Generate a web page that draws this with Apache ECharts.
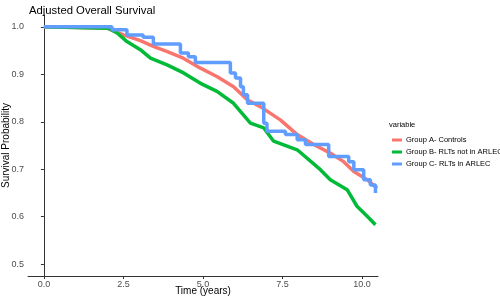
<!DOCTYPE html>
<html>
    <head>
        <meta charset="UTF-8">
        <title>Adjusted Overall Survival</title>
        <style type="text/css">
            body,html{ margin: 0; padding: 0; width: 500px; height: 300px; overflow: hidden; background: #fff;}
            .chart-box{ width: 500px; height: 300px;}
        </style>
    </head>
    <body>
        <div class="chart-box" id="chart"></div>

        <script src="https://cdn.jsdelivr.net/npm/echarts@6/dist/echarts.min.js"></script>
        <script type="text/javascript">
            // group names (legend order)
            var groupNames = ['Group A- Controls', 'Group B- RLTs not in ARLEC', 'Group C- RLTs in ARLEC'];

            // Group A - time (years) / survival
            var timeA = [0, 2.0, 2.5, 3.03, 3.44, 3.88, 4.38, 4.92, 5.45, 5.96, 6.40, 6.80, 7.43, 7.96, 8.48, 9.00, 9.42, 9.74, 10.16, 10.47];
            var survA = [1.0, 0.997, 0.983, 0.971, 0.959, 0.948, 0.934, 0.913, 0.895, 0.874, 0.846, 0.832, 0.804, 0.773, 0.752, 0.734, 0.716, 0.695, 0.678, 0.660];

            // Group B
            var timeB = [0, 2.03, 2.30, 2.61, 3.03, 3.35, 3.87, 4.39, 4.92, 5.44, 5.96, 6.49, 6.91, 7.22, 7.96, 8.69, 9.00, 9.53, 9.84, 10.16, 10.42];
            var survB = [1.0, 0.997, 0.987, 0.969, 0.952, 0.934, 0.920, 0.903, 0.881, 0.864, 0.839, 0.797, 0.787, 0.759, 0.741, 0.699, 0.678, 0.657, 0.622, 0.601, 0.583];

            // Group C (step curve)
            var timeC = [0, 2.14, 2.61, 3.12, 3.44, 4.29, 4.54, 4.76, 5.86, 6.02, 6.18, 6.27, 6.40, 6.91, 7.01, 7.59, 7.96, 8.22, 8.95, 9.58, 9.74, 10.05, 10.26, 10.42];
            var survC = [1.0, 0.994, 0.983, 0.978, 0.964, 0.945, 0.937, 0.925, 0.903, 0.892, 0.874, 0.857, 0.839, 0.797, 0.780, 0.773, 0.762, 0.752, 0.727, 0.716, 0.699, 0.678, 0.667, 0.650];

            var xTicks = [0, 2.5, 5, 7.5, 10];
            var yTicks = [0.5, 0.6, 0.7, 0.8, 0.9, 1.0];

            var colors = ['#F8766D', '#00BA38', '#619CFF'];

            function pairs(t, s) {
                return t.map(function (v, i) { return [v, s[i]]; });
            }

            var myChart = echarts.init(document.getElementById('chart'));

            var axisCommon = {
                axisLine: { show: true, lineStyle: { color: '#333', width: 1 } },
                splitLine: { show: false },
                nameMoveOverlap: false,
                axisLabel: { color: '#4D4D4D', fontSize: 9, fontFamily: 'Liberation Sans', margin: 4 },
                nameTextStyle: { color: '#000', fontSize: 10, fontFamily: 'Liberation Sans' }
            };

            var option = {
                animation: false,
                title: [{
                    text: 'Adjusted Overall Survival',
                    left: 24, top: 0,
                    textStyle: { fontSize: 11.3, fontWeight: 'normal', color: '#000', fontFamily: 'Liberation Sans' }
                }, {
                    text: 'variable',
                    left: 384, top: 116,
                    textStyle: { fontSize: 7.5, fontWeight: 'normal', color: '#000', fontFamily: 'Liberation Sans' }
                }],
                legend: {
                    orient: 'vertical',
                    left: 387, top: 130,
                    icon: 'rect',
                    itemWidth: 10, itemHeight: 3,
                    itemGap: 2,
                    textStyle: { fontSize: 7.5, color: '#000', fontFamily: 'Liberation Sans', lineHeight: 10, padding: [0, 0, 0, -1] },
                    data: groupNames
                },
                grid: { left: 28, right: 122, top: 15, bottom: 24, containLabel: false, outerBoundsMode: 'none' },
                xAxis: Object.assign({}, axisCommon, {
                    type: 'value',
                    min: -0.5, max: 10.5,
                    name: 'Time (years)',
                    nameLocation: 'middle',
                    nameGap: 10,
                    axisTick: { show: true, length: 3, lineStyle: { color: '#333' }, customValues: xTicks },
                    axisLabel: Object.assign({}, axisCommon.axisLabel, {
                        customValues: xTicks,
                        formatter: function (v) { return v.toFixed(1); }
                    })
                }),
                yAxis: Object.assign({}, axisCommon, {
                    type: 'value',
                    min: 0.475, max: 1.025,
                    name: 'Survival Probability',
                    nameLocation: 'middle',
                    nameGap: 17,
                    axisTick: { show: true, length: 3, lineStyle: { color: '#333' }, customValues: yTicks },
                    axisLabel: Object.assign({}, axisCommon.axisLabel, {
                        customValues: yTicks,
                        formatter: function (v) { return v.toFixed(1); }
                    })
                }),
                series: [{
                    name: groupNames[0],
                    type: 'line',
                    data: pairs(timeA, survA),
                    showSymbol: false,
                    lineStyle: { width: 3.5, color: colors[0] },
                    itemStyle: { color: colors[0] },
                    emphasis: { disabled: true }
                }, {
                    name: groupNames[1],
                    type: 'line',
                    data: pairs(timeB, survB),
                    showSymbol: false,
                    lineStyle: { width: 3.5, color: colors[1] },
                    itemStyle: { color: colors[1] },
                    emphasis: { disabled: true }
                }, {
                    name: groupNames[2],
                    type: 'line',
                    step: 'end',
                    data: pairs(timeC, survC),
                    showSymbol: false,
                    lineStyle: { width: 3.5, color: colors[2] },
                    itemStyle: { color: colors[2] },
                    emphasis: { disabled: true }
                }]
            };

            myChart.setOption(option);
        </script>
    </body>
</html>
